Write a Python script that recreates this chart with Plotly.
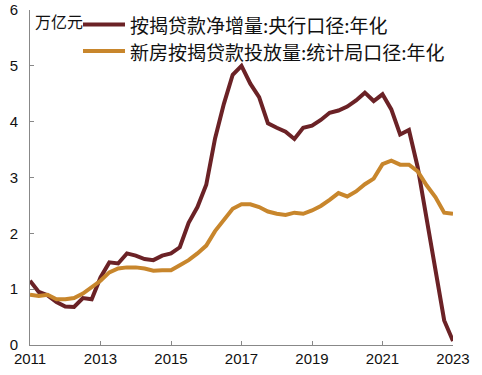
import plotly.graph_objects as go

# Quarterly points, 2011Q1 .. 2023Q1
start_year = 2011
net_increase = [1.15, 0.95, 0.89, 0.77, 0.69, 0.68, 0.84, 0.82, 1.21, 1.48,
                1.46, 1.64, 1.60, 1.54, 1.52, 1.60, 1.64, 1.75, 2.19, 2.47,
                2.87, 3.70, 4.32, 4.84, 5.00, 4.68, 4.44, 3.97, 3.89, 3.82,
                3.69, 3.89, 3.93, 4.03, 4.16, 4.20, 4.27, 4.38, 4.52, 4.37,
                4.49, 4.22, 3.77, 3.85, 3.18, 2.24, 1.30, 0.44, 0.07]
new_home_loans = [0.90, 0.88, 0.90, 0.82, 0.82, 0.84, 0.92, 1.04, 1.15, 1.30,
                  1.37, 1.39, 1.39, 1.37, 1.33, 1.34, 1.34, 1.43, 1.52, 1.64,
                  1.78, 2.04, 2.25, 2.44, 2.52, 2.52, 2.47, 2.39, 2.35, 2.33,
                  2.37, 2.35, 2.41, 2.49, 2.60, 2.72, 2.66, 2.75, 2.88, 2.98,
                  3.24, 3.30, 3.23, 3.23, 3.11, 2.86, 2.65, 2.37, 2.35]
x_vals = [start_year + i / 4 for i in range(len(net_increase))]

series_names = ["按揭贷款净增量:央行口径:年化", "新房按揭贷款投放量:统计局口径:年化"]
series_colors = ["#6b2226", "#c8862c"]
x_ticks = [2011, 2013, 2015, 2017, 2019, 2021, 2023]
x_tick_labels = [str(v) for v in x_ticks]
y_ticks = [0, 1, 2, 3, 4, 5, 6]
unit_label = "万亿元"

fig = go.Figure()
for name, vals, col in zip(series_names, [net_increase, new_home_loans], series_colors):
    fig.add_trace(go.Scatter(x=x_vals, y=vals, mode="lines", name=name,
                             line=dict(color=col, width=4), showlegend=False,
                             hoverinfo="skip"))

# Custom legend (line sample + text), placed in paper coordinates
legend_y = [0.9567, 0.8776]
shapes = []
annotations = []
for name, col, ly in zip(series_names, series_colors, legend_y):
    shapes.append(dict(type="line", xref="paper", yref="paper",
                       x0=0.1253, x1=0.2246, y0=ly, y1=ly,
                       line=dict(color=col, width=4)))
    annotations.append(dict(text=name, xref="paper", yref="paper",
                            x=0.2317, y=ly, xanchor="left", yanchor="middle",
                            showarrow=False,
                            font=dict(family="Noto Sans CJK SC", size=19, color="#111")))
annotations.append(dict(text=unit_label, x=0, y=1, xref="paper", yref="paper",
                        xanchor="left", yanchor="top", xshift=3, yshift=3,
                        showarrow=False,
                        font=dict(family="Noto Sans CJK SC", size=16, color="#111")))

fig.update_layout(
    width=482, height=375,
    margin=dict(l=30, r=29, t=10, b=30),
    paper_bgcolor="white", plot_bgcolor="white",
    font=dict(family="Liberation Sans, Arial", size=15, color="#111"),
    shapes=shapes,
    annotations=annotations,
)
fig.update_xaxes(range=[2011, 2023], tickvals=x_ticks, ticktext=x_tick_labels,
                 showgrid=False, zeroline=False, showline=True, linecolor="#888",
                 linewidth=1, ticks="inside", ticklen=4, tickcolor="#888",
                 automargin=False, ticklabeloverflow="allow")
fig.update_yaxes(range=[0, 6], tickvals=y_ticks, showgrid=False, zeroline=False,
                 showline=True, linecolor="#888", linewidth=1, ticks="inside",
                 ticklen=4, tickcolor="#888", ticklabelstandoff=8,
                 automargin=False, ticklabeloverflow="allow")

fig.write_html("out.html", config={"displayModeBar": False},
               post_script="document.body.style.margin='0px';")
